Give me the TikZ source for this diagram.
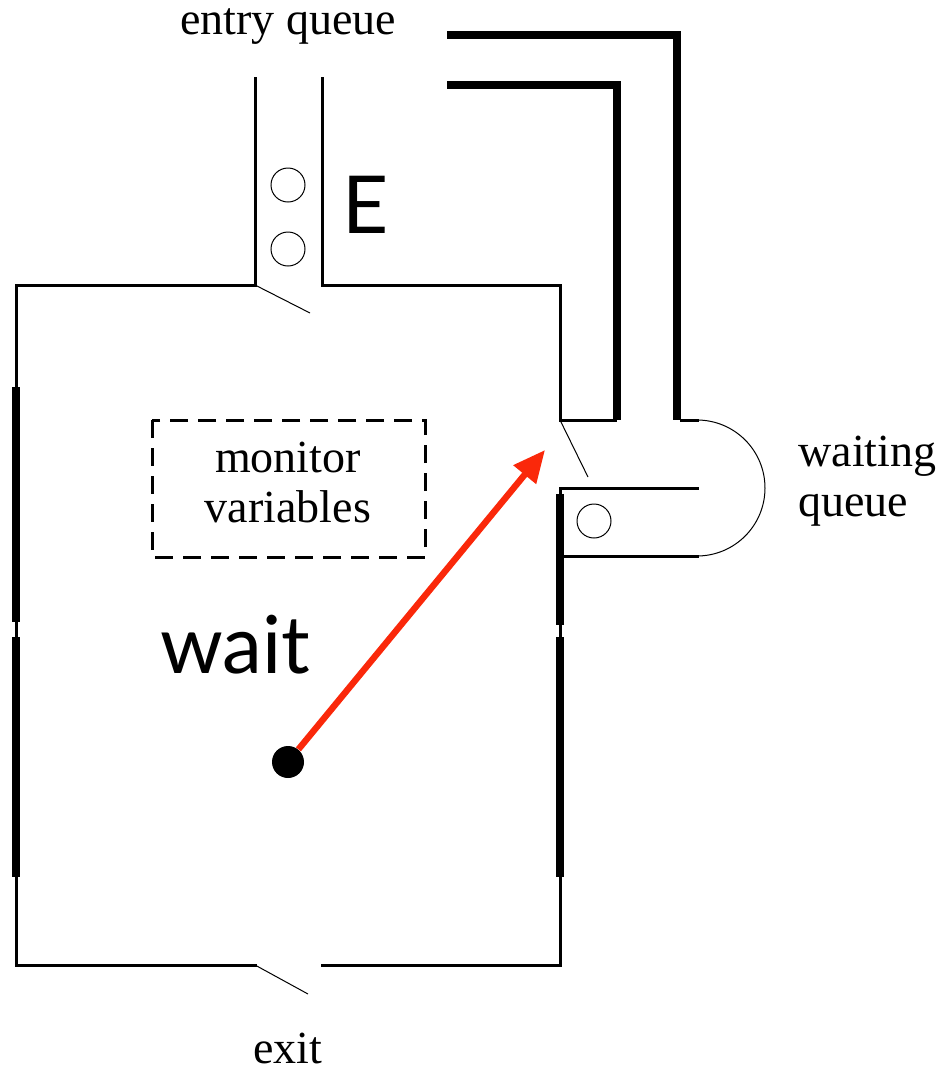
\documentclass[tikz,border=0pt]{standalone}
\usepackage{fontspec}
\setmainfont{Liberation Serif}
\newfontfamily\gill{Lato}
\usetikzlibrary{positioning, arrows.meta, calc}

\definecolor{callred}{RGB}{250,40,10}

\begin{document}
\begin{tikzpicture}[x=0.5pt, y=-0.5pt]
            % Define styles
            \tikzset{wall/.style={line width=1.5pt, line cap=rect},
                     thickwall/.style={line width=3.6pt},
                     flap/.style={line width=0.5pt},
                     token/.style={circle, draw, line width=0.5pt, minimum size=17pt, inner sep=0pt},
                     lbl/.style={font=\fontsize{23}{25}\selectfont, inner sep=0pt},
                     big/.style={font=\gill\fontsize{40}{40}\selectfont, inner sep=0pt}}
            \useasboundingbox (0,0) rectangle (944,1072);

            % Monitor room outline
            \draw[wall] (255,285) -- (16,285) -- (16,965) -- (255,965);
            \draw[wall] (322,965) -- (560,965) -- (560,488);
            \draw[wall] (322,285) -- (560,285) -- (560,420) -- (615,420);

            % Entry channel with waiting processes
            \draw[wall] (255,78) -- (255,285);
            \draw[wall] (322,78) -- (322,285);
            \node[token] (p1) at (288,185) {};
            \node[token] (p2) at (288,249) {};
            \node[big] (e) at (366,205) {E};
            \node[lbl] (entry) at (288,27) {entry queue};

            % Doors
            \draw[flap] (255,285) -- (310,313);
            \draw[flap] (255,965) -- (308,994);
            \draw[flap] (560,420) -- (588,477);

            % Return path from waiting queue to entry queue
            \draw[thickwall] (447,85) -- (617,85) -- (617,420);
            \draw[thickwall] (447,35) -- (677,35) -- (677,420);

            % Waiting queue
            \draw[wall] (681,420) -- (697,420);
            \draw[flap] (697,420) arc[start angle=-90, end angle=90, radius=68];
            \draw[wall] (562,488) -- (697,488);
            \draw[wall] (560,556) -- (697,556);
            \node[token] (w1) at (594,521) {};
            \node[lbl, align=left, anchor=north west] (waiting) at (798,436) {waiting\\queue};

            % Thick wall segments
            \draw[thickwall] (16,387) -- (16,622);
            \draw[thickwall] (16,637) -- (16,877);
            \draw[thickwall] (560,494) -- (560,625);
            \draw[thickwall] (560,637) -- (560,877);

            % Monitor variables
            \draw[line width=1.5pt, dash pattern=on 9pt off 5pt] (152,420) rectangle (425,557);
            \node[lbl, align=center] (vars) at (288,482) {monitor\\variables};

            % Process calling wait
            \node[big] (wait) at (235,645) {wait};
            \node[circle, fill, minimum size=16pt, inner sep=0pt] (proc) at (288,762) {};
            \coordinate (door) at (545,450);
            \draw[callred, line width=3.2pt, -{Triangle[length=16pt, width=14pt]}] (proc) -- (door);

            \node[lbl] (exit) at (288,1048) {exit};
        \end{tikzpicture}
\end{document}
